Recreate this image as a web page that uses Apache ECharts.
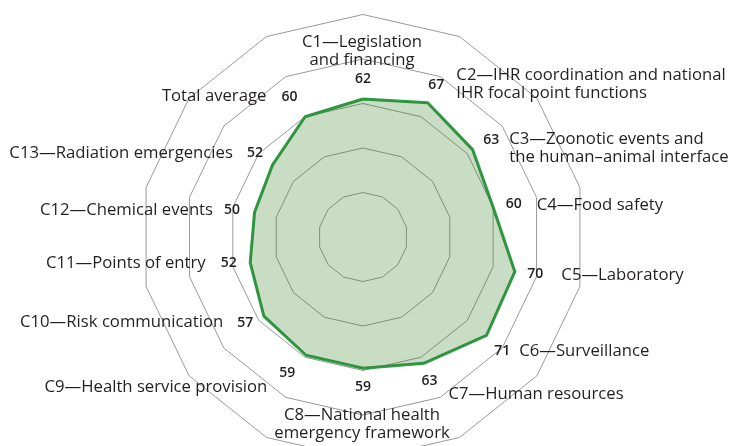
<!DOCTYPE html>
<html>
<head>
<meta charset="utf-8">
<script src="https://cdn.jsdelivr.net/npm/echarts@6/dist/echarts.min.js"></script>
<style>
  html, body { margin: 0; padding: 0; background: #fff; }
  #chart { width: 742px; height: 446px; }
</style>
</head>
<body>
<div id="chart"></div>
<script>
// Capacity categories, listed clockwise from the top
const categories = [
  'C1\u2014Legislation\nand financing',
  'C2\u2014IHR coordination and national\nIHR focal point functions',
  'C3\u2014Zoonotic events and\nthe human\u2013animal interface',
  'C4\u2014Food safety',
  'C5\u2014Laboratory',
  'C6\u2014Surveillance',
  'C7\u2014Human resources',
  'C8\u2014National health\nemergency framework',
  'C9\u2014Health service provision',
  'C10\u2014Risk communication',
  'C11\u2014Points of entry',
  'C12\u2014Chemical events',
  'C13\u2014Radiation emergencies',
  'Total average'
];
// Average score per capacity (%)
const scores = [62, 67, 63, 60, 70, 71, 63, 59, 59, 57, 52, 50, 52, 60];
// Scale of the rings
const axisMax = 100;
const ringCount = 5;

// Label layout: value-label nudge [dx, dy] and name placement relative to the value label
const valueNudge = [
  [0, 0], [0, 0], [3, 3], [1, 1], [1, -2], [0, 3], [-3, 0],
  [0, -1], [-10, 0], [-3, -6], [-2, -4], [-3, 2], [-2, 1], [-7, -2]
];
const nameLayout = [
  { dx: -1, dy: -28, align: 'center' },
  { dx: 20, dy: 0, align: 'left' },
  { dx: 18, dy: 8, align: 'left' },
  { dx: 23, dy: 1, align: 'left' },
  { dx: 26, dy: 1, align: 'left' },
  { dx: 17, dy: 0, align: 'left' },
  { dx: 19, dy: 13, align: 'left' },
  { dx: -1, dy: 37, align: 'center' },
  { dx: -20, dy: 14, align: 'right' },
  { dx: -22, dy: 0, align: 'right' },
  { dx: -23, dy: 0, align: 'right' },
  { dx: -19, dy: 0, align: 'right' },
  { dx: -22, dy: 0, align: 'right' },
  { dx: -23, dy: 0, align: 'right' }
];

// ECharts lays radar indicators out counter-clockwise, so feed them in reverse after the first
const order = [0].concat(categories.map((_, i) => i).slice(1).reverse());

const chart = echarts.init(document.getElementById('chart'), null, { renderer: 'canvas' });
const FONT = '"Open Sans", Lato, sans-serif';
const INK = '#231f20';

chart.setOption({
  animation: false,
  backgroundColor: '#fff',
  radar: {
    center: [363, 237],
    radius: 222.5,
    startAngle: 90,
    shape: 'polygon',
    splitNumber: ringCount,
    indicator: order.map(i => ({ name: categories[i], max: axisMax, min: 0 })),
    axisName: { show: false },
    axisLine: { show: false },
    axisTick: { show: false },
    axisLabel: { show: false },
    splitArea: { show: false },
    splitLine: { lineStyle: { color: '#9a9a9a', width: 1 } }
  },
  series: [{
    type: 'radar',
    symbol: 'none',
    lineStyle: { color: '#2f9a45', width: 3 },
    areaStyle: { color: 'rgba(46,125,30,0.26)', opacity: 1 },
    data: [{ value: order.map(i => scores[i]) }]
  }]
});

// Position value labels and category names from the radar's own coordinate system
const radarCS = chart.getModel().getComponent('radar', 0).coordinateSystem;
const graphics = [];
categories.forEach((name, i) => {
  const idx = order.indexOf(i);
  const p = radarCS.dataToPoint(scores[i] + 9, idx);
  const vx = p[0] + valueNudge[i][0];
  const vy = p[1] + valueNudge[i][1];
  graphics.push({
    type: 'text', x: vx, y: vy, silent: true,
    style: {
      text: String(scores[i]), fill: INK, font: '600 14px ' + FONT,
      align: 'center', verticalAlign: 'middle'
    }
  });
  const L = nameLayout[i];
  graphics.push({
    type: 'text', x: vx + L.dx, y: vy + L.dy, silent: true,
    style: {
      text: name, fill: INK, font: '16.7px ' + FONT, lineHeight: 18,
      align: L.align, verticalAlign: 'middle'
    }
  });
});
chart.setOption({ graphic: graphics });
</script>
</body>
</html>
